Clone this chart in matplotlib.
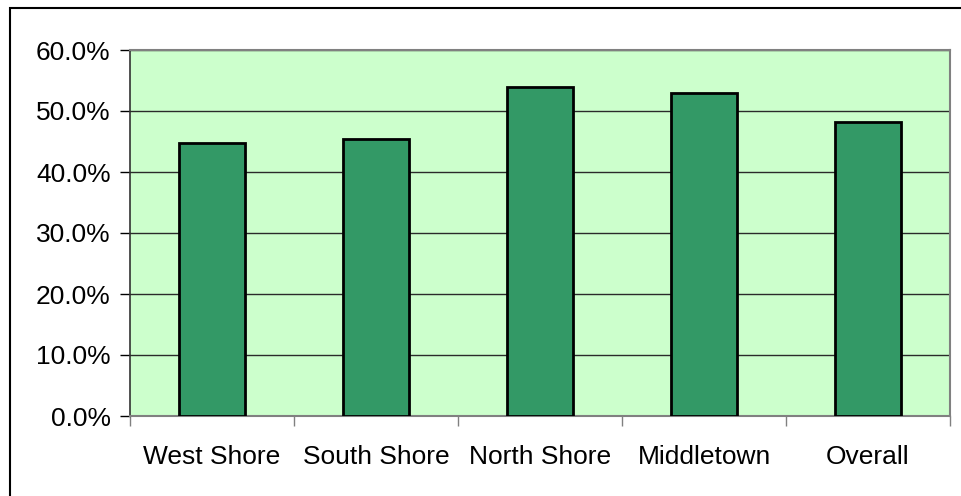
import matplotlib
matplotlib.use("Agg")
import matplotlib.pyplot as plt
from matplotlib.patches import Rectangle
from matplotlib.ticker import FuncFormatter

categories = ["West Shore", "South Shore", "North Shore", "Middletown", "Overall"]
values = [44.7, 45.4, 54.0, 52.9, 48.2]
yticks = [0, 10, 20, 30, 40, 50, 60]

plt.rcParams['font.family'] = ['Liberation Sans', 'DejaVu Sans']

W, H = 961, 496
fig = plt.figure(figsize=(W / 100, H / 100), dpi=100)
fig.patch.set_facecolor('white')

# outer chart border (only top and left visible)
fig.add_artist(Rectangle((9.5 / W, -0.1), 2.0, (1 - 7.5 / H) + 0.1,
                         transform=fig.transFigure, fill=False,
                         edgecolor='black', linewidth=1.5))

ax = fig.add_axes([130 / W, 1 - 416 / H, (950 - 130) / W, (416 - 50) / H])
ax.set_facecolor('#CCFFCC')

x = list(range(len(categories)))
ax.bar(x, values, width=0.4, color='#339966', edgecolor='black', linewidth=2, zorder=3)

ax.set_xlim(-0.5, len(categories) - 0.5)
ax.set_ylim(0, 60)
ax.set_yticks(yticks)
ax.yaxis.set_major_formatter(FuncFormatter(lambda v, p: f"{v:.1f}%"))
ax.grid(axis='y', color='#2a2a2a', linewidth=1.0, zorder=1)

ax.set_xticks([i - 0.5 for i in range(len(categories) + 1)])
ax.set_xticklabels([])
ax.set_xticks(x, minor=True)
ax.set_xticklabels(categories, minor=True)
ax.tick_params(axis='x', which='minor', length=0, pad=21, labelsize=19)
ax.tick_params(axis='x', which='major', length=7, width=1, color='#808080', direction='out')
ax.tick_params(axis='y', length=7, width=1, color='black', direction='out', pad=7, labelsize=19)

for s in ['top', 'right', 'bottom']:
    ax.spines[s].set_color('#808080')
    ax.spines[s].set_linewidth(1.5)
ax.spines['left'].set_color('#333333')
ax.spines['left'].set_linewidth(1.2)

fig.savefig('out.png', dpi=100)
